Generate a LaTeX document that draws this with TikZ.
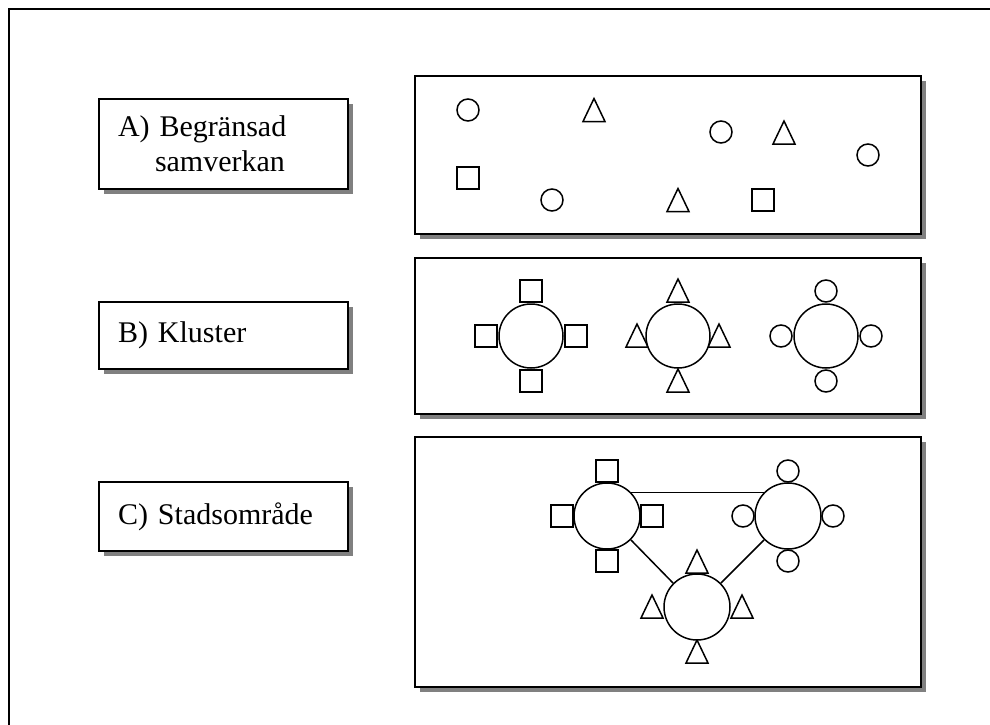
\documentclass[tikz,border=0pt]{standalone}
\usepackage{fontspec}
\setmainfont{Liberation Serif}
\usetikzlibrary{shadows}
\tikzset{
  shbox/.style={draw,line width=1.8pt,fill=white,inner sep=0pt,
    drop shadow={shadow xshift=5pt,shadow yshift=-5pt,fill=gray,opacity=1}},
  labbox/.style={shbox,minimum width=249pt,text width=211pt,inner xsep=19pt,
    align=left,font=\fontsize{30}{35}\selectfont},
  panel/.style={shbox,minimum width=506pt},
  hub/.style={circle,draw,line width=1.5pt,fill=white,inner sep=0pt},
  conn/.style={line width=1.5pt},
  pics/circ/.style={code={\draw[line width=1.5pt,fill=white] (0,0) circle (11pt);}},
  pics/sq/.style={code={\draw[line width=1.5pt,fill=white] (-11,-11) rectangle (11,11);}},
  pics/tri/.style={code={\draw[line width=1.5pt,fill=white] (-11,11) -- (11,11) -- (0,-12) -- cycle;}}
}
\begin{document}
\begin{tikzpicture}[x=1pt,y=-1pt]
  \clip (0,0) rectangle (990,725);
  \draw[line width=2pt] (9,9) rectangle (1100,800);

  % labels
  \node[labbox,minimum height=90pt] (labA) at (223.5,144) {A) Begränsad\\\hspace*{37pt}samverkan};
  \node[labbox,minimum height=67pt] (labB) at (223.5,335.5) {B) Kluster};
  \node[labbox,minimum height=69pt] (labC) at (223.5,516.5) {C) Stadsområde};

  % panels
  \node[panel,minimum height=158pt] (panA) at (668,155) {};
  \node[panel,minimum height=156pt] (panB) at (668,336) {};
  \node[panel,minimum height=250pt] (panC) at (668,562) {};

  % A) scattered
  \foreach \x/\y in {468/110,721/132,868/155,552/200}
    \pic at (\x,\y) {circ};
  \foreach \x/\y in {594/110.5,784/133,678/200.5}
    \pic at (\x,\y) {tri};
  \foreach \x/\y in {468/178,763/200}
    \pic at (\x,\y) {sq};

  % B) clusters
  \foreach \dx/\dy in {0/-45,-45/0,45/0,0/45}{
    \pic at (531+\dx,336+\dy) {sq};
    \pic at (826+\dx,336+\dy) {circ};
  }
  \foreach \dx/\dy in {0/-45,-41/0,41/0,0/45}
    \pic at (678+\dx,336+\dy) {tri};
  \node[hub,minimum size=64pt] (sqB) at (531,336) {};
  \node[hub,minimum size=64pt] (trB) at (678,336) {};
  \node[hub,minimum size=64pt] (ciB) at (826,336) {};

  % C) connected clusters
  \foreach \dx/\dy in {0/-45,-45/0,45/0,0/45}{
    \pic at (607+\dx,516+\dy) {sq};
    \pic at (788+\dx,516+\dy) {circ};
    \pic at (697+\dx,607+\dy) {tri};
  }
  \node[hub,minimum size=66pt] (sqC) at (607,516) {};
  \node[hub,minimum size=66pt] (ciC) at (788,516) {};
  \node[hub,minimum size=66pt] (trC) at (697,607) {};
  \draw[conn] (sqC.44) -- (ciC.136);
  \draw[conn] (sqC.-45) -- (trC.135);
  \draw[conn] (ciC.-135) -- (trC.45);
\end{tikzpicture}
\end{document}
